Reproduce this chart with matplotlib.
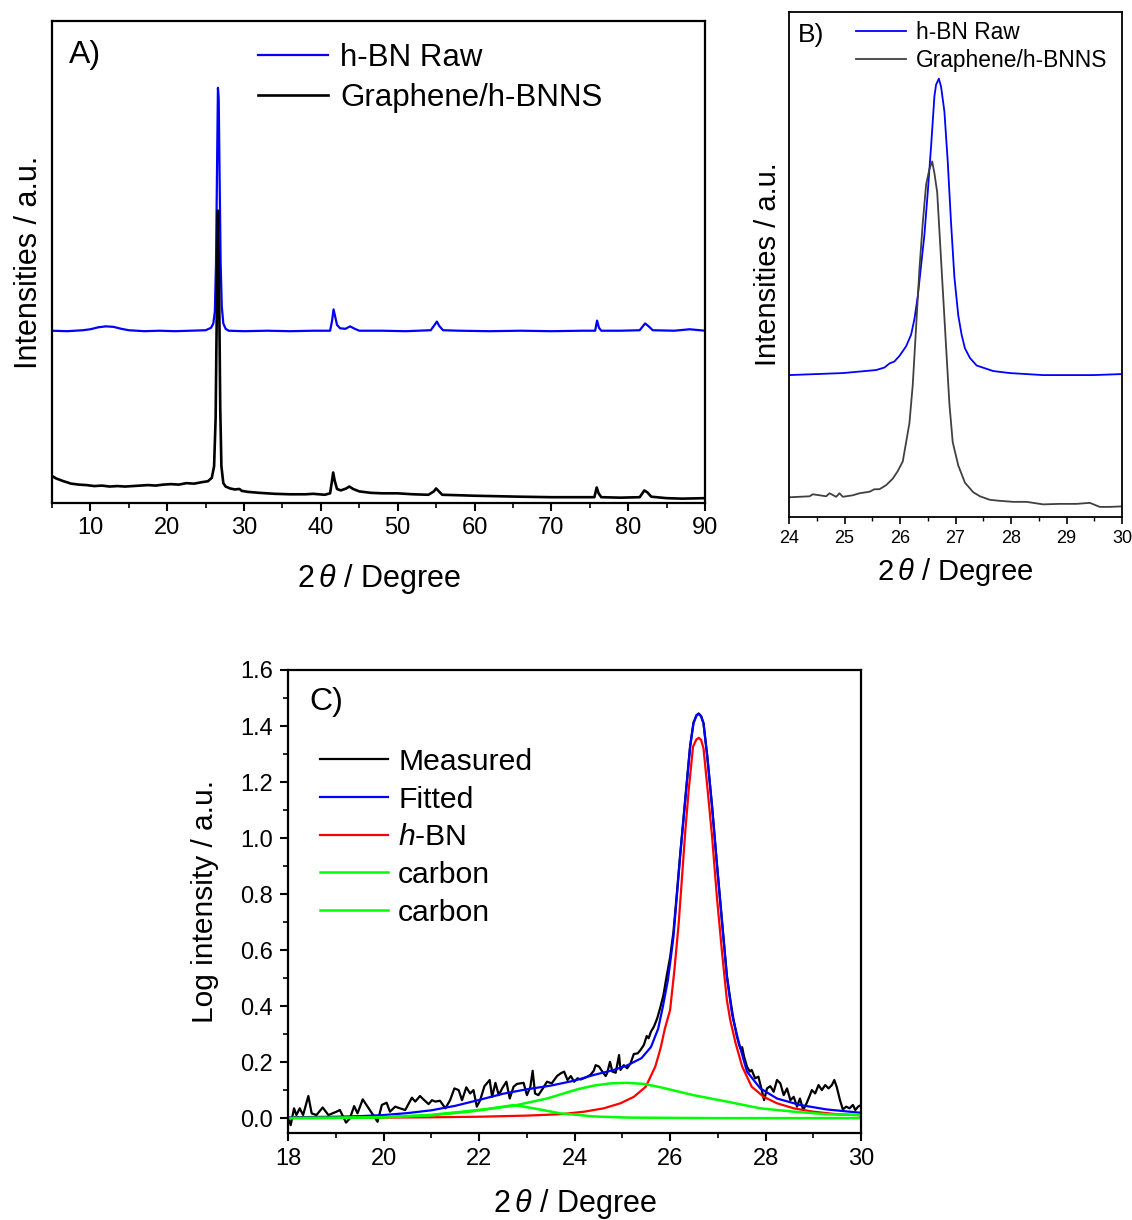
import matplotlib
matplotlib.use("Agg")
import matplotlib.pyplot as plt
from matplotlib.ticker import MultipleLocator, FormatStrFormatter

plt.rcParams['font.family'] = ['Liberation Sans', 'DejaVu Sans']
plt.rcParams['mathtext.fontset'] = 'custom'
plt.rcParams['mathtext.rm'] = 'Liberation Sans'
plt.rcParams['mathtext.it'] = 'Liberation Sans:italic'
plt.rcParams['mathtext.bf'] = 'Liberation Sans:bold'

# ---------------- Panel A data (full pattern, offset intensities) ----------------
a_raw_x = [5.0, 7.0, 9.0, 10.0, 11.0, 12.0, 13.0, 14.0, 15.0, 17.0, 19.0, 21.0, 23.0, 25.0,
           25.7, 26.0, 26.2, 26.35, 26.5, 26.6, 26.7, 26.8, 26.95, 27.1, 27.3, 27.6, 28.0,
           30.0, 33.0, 36.0, 39.0, 41.2, 41.45, 41.65, 41.85, 42.1, 42.5, 43.2, 43.8, 44.4,
           45.0, 48.0, 51.0, 54.3, 54.8, 55.1, 55.4, 55.9, 58.0, 62.0, 66.0, 70.0, 74.0,
           75.7, 75.95, 76.2, 76.5, 79.0, 81.5, 82.2, 82.6, 83.2, 86.0, 88.0, 90.0]
a_raw_y = [36.0, 35.9, 36.1, 36.3, 36.7, 36.9, 36.8, 36.4, 36.1, 35.9, 36.0, 35.9, 36.0, 36.1,
           36.6, 37.5, 40.0, 50.0, 72.0, 86.2, 84.0, 70.0, 50.0, 41.0, 37.5, 36.4, 36.0,
           35.9, 36.0, 35.9, 36.0, 36.0, 38.0, 40.4, 39.0, 37.2, 36.5, 36.4, 36.9, 36.4,
           36.0, 36.0, 35.9, 36.1, 37.2, 37.9, 37.0, 36.1, 36.0, 35.9, 36.0, 35.9, 36.0,
           36.0, 38.1, 36.6, 36.0, 36.0, 36.1, 37.5, 37.0, 36.1, 36.0, 36.3, 36.0]

a_gr_x = [5.0, 5.5, 6.5, 7.5, 8.5, 9.5, 10.5, 11.5, 12.5, 13.5, 14.5, 15.5, 16.5, 17.5, 18.5,
          19.5, 20.5, 21.5, 22.5, 23.5, 24.5, 25.3, 25.8, 26.1, 26.3, 26.45, 26.6, 26.75,
          26.9, 27.05, 27.3, 27.6, 28.2, 28.8, 29.4, 29.7, 30.5, 32.0, 34.0, 36.0, 38.0,
          39.0, 40.5, 41.2, 41.45, 41.6, 41.8, 42.1, 42.6, 43.3, 43.7, 44.2, 45.0, 46.5,
          48.0, 50.0, 52.0, 54.0, 54.7, 55.0, 55.3, 55.8, 58.0, 60.0, 63.0, 66.0, 70.0,
          73.0, 75.6, 75.9, 76.15, 76.5, 79.0, 81.5, 82.1, 82.5, 83.0, 85.0, 87.0, 90.0]
a_gr_y = [6.0, 5.5, 4.9, 4.4, 4.2, 4.1, 3.9, 4.0, 3.8, 3.9, 3.8, 3.9, 4.0, 4.1, 4.0,
          4.2, 4.3, 4.2, 4.5, 4.4, 4.7, 4.9, 5.6, 8.0, 18.0, 40.0, 60.8, 45.0,
          20.0, 8.0, 4.5, 3.8, 3.4, 3.2, 3.3, 2.9, 2.7, 2.5, 2.3, 2.2, 2.2,
          2.3, 2.1, 2.4, 5.0, 6.7, 5.0, 3.3, 3.0, 3.4, 3.8, 3.3, 2.8, 2.5,
          2.4, 2.4, 2.2, 2.1, 2.8, 3.4, 2.9, 2.1, 2.0, 1.9, 1.8, 1.7, 1.6,
          1.6, 1.6, 3.6, 2.4, 1.6, 1.5, 1.6, 3.0, 2.6, 1.7, 1.4, 1.3, 1.4]

# ---------------- Panel B data (zoom on the (002) peak) ----------------
b_raw_x = [24.00, 24.97, 25.57, 25.72, 25.81, 25.90, 25.99, 26.11, 26.20, 26.26, 26.32, 26.38,
           26.44, 26.50, 26.56, 26.62, 26.65, 26.70, 26.74, 26.80, 26.86, 26.92, 26.98, 27.05,
           27.11, 27.17, 27.26, 27.38, 27.68, 27.98, 28.58, 29.48, 29.99]
b_raw_y = [28.1, 28.5, 29.1, 29.6, 30.4, 30.8, 31.9, 33.8, 36.1, 39.2, 43.7, 49.8,
           55.9, 64.3, 73.4, 83.3, 85.6, 86.8, 85.2, 80.3, 70.4, 58.2, 47.5, 39.9,
           36.1, 33.4, 31.5, 30.0, 28.9, 28.5, 28.1, 28.1, 28.3]

b_gr_x = [24.00, 24.37, 24.43, 24.67, 24.73, 24.85, 24.91, 24.97, 25.15, 25.27, 25.45, 25.54,
          25.63, 25.75, 25.87, 25.96, 26.05, 26.11, 26.17, 26.23, 26.29, 26.35, 26.41, 26.47,
          26.53, 26.58, 26.62, 26.67, 26.71, 26.77, 26.83, 26.89, 26.95, 27.05, 27.17, 27.32,
          27.44, 27.62, 27.80, 28.04, 28.28, 28.58, 28.88, 29.18, 29.42, 29.60, 29.78, 29.99]
b_gr_y = [3.9, 4.1, 4.5, 4.1, 4.7, 4.0, 4.7, 4.0, 4.3, 4.7, 5.0, 5.5,
          5.5, 6.3, 7.6, 9.1, 11.0, 14.8, 18.6, 26.2, 37.6, 49.1, 58.2, 65.8,
          68.9, 70.4, 68.1, 64.3, 56.7, 45.2, 33.8, 22.4, 14.8, 10.2, 6.8, 4.9,
          4.1, 3.4, 3.2, 3.0, 3.0, 2.5, 2.6, 2.6, 2.8, 2.0, 2.0, 2.1]

# ---------------- Panel C data (peak fit, log intensity) ----------------
c_meas_x = [18.00, 18.05, 18.12, 18.17, 18.24, 18.31, 18.42, 18.49, 18.59, 18.72, 18.84, 19.01,
            19.08, 19.15, 19.21, 19.29, 19.38, 19.45, 19.56, 19.70, 19.78, 19.87, 19.96, 20.06,
            20.13, 20.24, 20.34, 20.45, 20.59, 20.66, 20.76, 20.83, 20.94, 21.01, 21.08, 21.18,
            21.29, 21.39, 21.48, 21.57, 21.64, 21.73, 21.81, 21.88, 21.95, 22.02, 22.11, 22.22,
            22.27, 22.34, 22.41, 22.48, 22.57, 22.64, 22.72, 22.79, 22.93, 23.00, 23.07, 23.12,
            23.17, 23.24, 23.35, 23.42, 23.52, 23.63, 23.71, 23.78, 23.85, 23.92, 23.99, 24.06,
            24.13, 24.23, 24.33, 24.40, 24.44, 24.51, 24.58, 24.65, 24.68, 24.74, 24.79, 24.86,
            24.93, 24.96, 25.03, 25.10, 25.17, 25.24, 25.32, 25.38, 25.45, 25.51, 25.55, 25.60,
            25.66, 25.73, 25.80, 25.86, 25.92, 26.00, 26.07, 26.14, 26.21, 26.28, 26.35, 26.42,
            26.49, 26.56, 26.60, 26.65, 26.70, 26.78, 26.88, 26.98, 27.09, 27.19, 27.26, 27.33,
            27.40, 27.47, 27.51, 27.55, 27.61, 27.67, 27.71, 27.78, 27.85, 27.92, 27.97, 28.03,
            28.10, 28.17, 28.24, 28.31, 28.38, 28.45, 28.52, 28.59, 28.66, 28.72, 28.79, 28.86,
            28.93, 28.97, 29.04, 29.11, 29.18, 29.25, 29.32, 29.39, 29.44, 29.49, 29.56, 29.62,
            29.69, 29.76, 29.83, 29.88, 29.94, 30.00]
c_meas_y = [0.000, -0.024, 0.036, 0.012, 0.036, 0.012, 0.080, 0.018, 0.012, 0.039, 0.012, 0.024,
            0.030, 0.006, -0.015, 0.000, 0.044, 0.018, 0.068, 0.032, 0.012, -0.012, 0.048, 0.056,
            0.024, 0.042, 0.036, 0.030, 0.074, 0.060, 0.080, 0.068, 0.051, 0.065, 0.060, 0.063,
            0.036, 0.065, 0.107, 0.101, 0.065, 0.111, 0.089, 0.101, 0.042, 0.065, 0.115, 0.137,
            0.077, 0.127, 0.083, 0.107, 0.131, 0.071, 0.113, 0.123, 0.127, 0.083, 0.111, 0.170,
            0.089, 0.083, 0.111, 0.131, 0.125, 0.151, 0.161, 0.167, 0.137, 0.151, 0.131, 0.143,
            0.139, 0.146, 0.155, 0.170, 0.190, 0.185, 0.167, 0.151, 0.161, 0.202, 0.167, 0.163,
            0.226, 0.173, 0.190, 0.179, 0.196, 0.230, 0.232, 0.244, 0.262, 0.294, 0.286, 0.310,
            0.327, 0.357, 0.399, 0.440, 0.500, 0.575, 0.665, 0.800, 0.940, 1.070, 1.200, 1.330,
            1.412, 1.440, 1.445, 1.435, 1.410, 1.290, 1.112, 0.910, 0.700, 0.510, 0.425, 0.351,
            0.292, 0.250, 0.254, 0.220, 0.185, 0.167, 0.173, 0.143, 0.149, 0.101, 0.065, 0.107,
            0.115, 0.095, 0.137, 0.125, 0.083, 0.107, 0.065, 0.077, 0.042, 0.071, 0.030, 0.054,
            0.083, 0.101, 0.089, 0.119, 0.101, 0.119, 0.107, 0.119, 0.137, 0.113, 0.065, 0.032,
            0.042, 0.036, 0.048, 0.030, 0.042, 0.048]

c_fit_x = [18.0, 18.5, 19.0, 19.5, 20.0, 20.5, 21.0, 21.5, 22.0, 22.5, 23.0, 23.5, 24.0, 24.4,
           24.8, 25.1, 25.4, 25.6, 25.75, 25.85, 25.95, 26.00, 26.07, 26.14, 26.21, 26.28, 26.35,
           26.42, 26.49, 26.55, 26.60, 26.65, 26.70, 26.78, 26.88, 26.98, 27.09, 27.19, 27.26,
           27.30, 27.44, 27.61, 27.89, 28.24, 28.72, 29.28, 30.00]
c_fit_y = [0.004, 0.005, 0.006, 0.008, 0.012, 0.019, 0.029, 0.045, 0.066, 0.088, 0.104, 0.117,
           0.135, 0.155, 0.172, 0.189, 0.215, 0.255, 0.320, 0.400, 0.490, 0.553, 0.648, 0.791,
           0.934, 1.065, 1.196, 1.326, 1.410, 1.438, 1.443, 1.435, 1.410, 1.290, 1.112, 0.910,
           0.696, 0.505, 0.420, 0.370, 0.270, 0.167, 0.107, 0.071, 0.048, 0.032, 0.020]

c_hbn_x = [18.0, 19.0, 20.0, 21.0, 22.0, 23.0, 23.71, 24.2, 24.61, 24.96, 25.24, 25.49, 25.69,
           25.80, 25.89, 26.00, 26.09, 26.18, 26.25, 26.32, 26.39, 26.48, 26.55, 26.60, 26.65,
           26.70, 26.78, 26.88, 26.98, 27.09, 27.19, 27.26, 27.37, 27.51, 27.71, 27.96, 28.24,
           28.59, 29.00, 29.49, 30.00]
c_hbn_y = [0.002, 0.002, 0.003, 0.004, 0.006, 0.010, 0.015, 0.024, 0.036, 0.054, 0.077, 0.113,
           0.185, 0.250, 0.320, 0.387, 0.529, 0.696, 0.862, 1.029, 1.172, 1.326, 1.352, 1.358,
           1.350, 1.320, 1.183, 1.005, 0.791, 0.589, 0.422, 0.351, 0.270, 0.185, 0.113, 0.077,
           0.054, 0.036, 0.024, 0.015, 0.011]

c_c1_x = [18.0, 19.0, 19.9, 20.94, 21.64, 22.2, 22.72, 23.42, 24.06, 24.40, 24.75, 25.10, 25.45,
          25.80, 26.49, 27.19, 27.89, 28.59, 29.28, 30.00]
c_c1_y = [0.001, 0.002, 0.004, 0.012, 0.024, 0.034, 0.045, 0.071, 0.104, 0.117, 0.125, 0.127,
          0.123, 0.111, 0.083, 0.060, 0.036, 0.024, 0.015, 0.012]

c_c2_x = [18.0, 19.0, 20.0, 21.0, 21.8, 22.2, 22.5, 22.7, 22.9, 23.2, 23.7, 24.1, 24.4, 25.1,
          26.0, 27.0, 28.0, 30.0]
c_c2_y = [0.001, 0.002, 0.004, 0.011, 0.024, 0.034, 0.042, 0.047, 0.043, 0.034, 0.018, 0.012,
          0.007, 0.003, 0.002, 0.001, 0.001, 0.001]

xlabel_txt = r"2$\,\theta$ / Degree"

W, H = 1132, 1220
fig = plt.figure(figsize=(W / 100, H / 100), dpi=100)

def style_axes(ax, lw=1.5):
    for s in ax.spines.values():
        s.set_linewidth(lw)
        s.set_color('black')

# ---------------- Panel A ----------------
axA = fig.add_axes([52 / W, 1 - 503 / H, 653 / W, 482 / H])
lA1, = axA.plot(a_raw_x, a_raw_y, color='#0000FF', lw=1.6, label='h-BN Raw')
lA2, = axA.plot(a_gr_x, a_gr_y, color='black', lw=1.9, label='Graphene/h-BNNS')
axA.set_xlim(5, 90)
axA.set_ylim(0.4, 100)
axA.set_yticks([])
axA.xaxis.set_major_locator(MultipleLocator(10))
axA.xaxis.set_minor_locator(MultipleLocator(5))
axA.tick_params(axis='x', which='major', direction='out', length=6, width=1.5, labelsize=17, pad=4)
axA.tick_params(axis='x', which='minor', direction='out', length=3.5, width=1.2)
axA.set_xticks([10, 20, 30, 40, 50, 60, 70, 80, 90])
axA.set_xlabel(xlabel_txt, fontsize=22, labelpad=17)
axA.set_ylabel('Intensities / a.u.', fontsize=22, labelpad=6)
style_axes(axA, 1.6)
axA.legend(handles=[lA1, lA2], loc='upper left', bbox_to_anchor=(258 / W, 1 - 43 / H),
           bbox_transform=fig.transFigure, frameon=False, fontsize=22.5, borderpad=0,
           borderaxespad=0, handlelength=2.25, handletextpad=0.38, labelspacing=0.33)
fig.text(85 / W, 1 - 55 / H, 'A)', fontsize=23, ha='center', va='center')

# ---------------- Panel B ----------------
axB = fig.add_axes([789 / W, 1 - 517 / H, 333 / W, 505 / H])
lB1, = axB.plot(b_raw_x, b_raw_y, color='#0000FF', lw=1.3, label='h-BN Raw')
lB2, = axB.plot(b_gr_x, b_gr_y, color='#404040', lw=1.3, label='Graphene/h-BNNS')
axB.set_xlim(24, 30)
axB.set_ylim(0, 100)
axB.set_yticks([])
axB.xaxis.set_major_locator(MultipleLocator(1))
axB.xaxis.set_minor_locator(MultipleLocator(0.5))
axB.tick_params(axis='x', which='major', direction='out', length=5, width=1.2, labelsize=13, pad=4)
axB.tick_params(axis='x', which='minor', direction='out', length=3, width=1.0)
axB.set_xlabel(xlabel_txt, fontsize=21, labelpad=7)
axB.set_ylabel('Intensities / a.u.', fontsize=21, labelpad=5)
style_axes(axB, 1.3)
axB.legend(handles=[lB1, lB2], loc='upper left', bbox_to_anchor=(856 / W, 1 - 21 / H),
           bbox_transform=fig.transFigure, frameon=False, fontsize=16.4, borderpad=0,
           borderaxespad=0, handlelength=2.2, handletextpad=0.45, labelspacing=0.2)
fig.text(811 / W, 1 - 35 / H, 'B)', fontsize=19, ha='center', va='center')

# ---------------- Panel C ----------------
axC = fig.add_axes([288.3 / W, 1 - 1132.7 / H, 572.7 / W, 462.7 / H])
l1, = axC.plot(c_meas_x, c_meas_y, color='black', lw=1.6, label='Measured')
l2, = axC.plot(c_fit_x, c_fit_y, color='#0000FF', lw=1.6, label='Fitted')
l3, = axC.plot(c_hbn_x, c_hbn_y, color='#FF0000', lw=1.6, label=r'$h$-BN')
l4, = axC.plot(c_c1_x, c_c1_y, color='#00FF00', lw=1.8, label='carbon')
l5, = axC.plot(c_c2_x, c_c2_y, color='#00FF00', lw=1.8, label='carbon')
axC.set_xlim(18, 30)
axC.set_ylim(-0.051, 1.6)
axC.xaxis.set_major_locator(MultipleLocator(2))
axC.xaxis.set_minor_locator(MultipleLocator(1))
axC.yaxis.set_major_locator(MultipleLocator(0.2))
axC.yaxis.set_minor_locator(MultipleLocator(0.1))
axC.yaxis.set_major_formatter(FormatStrFormatter('%.1f'))
axC.tick_params(axis='both', which='major', direction='out', length=6, width=1.5, labelsize=17, pad=5)
axC.tick_params(axis='both', which='minor', direction='out', length=3.5, width=1.2)
axC.set_xlabel(xlabel_txt, fontsize=22, labelpad=12)
axC.set_ylabel('Log intensity / a.u.', fontsize=21.5, labelpad=15)
style_axes(axC, 1.6)
axC.legend(handles=[l1, l2, l3, l4, l5], loc='upper left', bbox_to_anchor=(320 / W, 1 - 748 / H),
           bbox_transform=fig.transFigure, frameon=False, fontsize=21.7, borderpad=0,
           borderaxespad=0, handlelength=2.26, handletextpad=0.33, labelspacing=0.32)
fig.text(326 / W, 1 - 702 / H, 'C)', fontsize=23, ha='center', va='center')

fig.savefig('out.png', dpi=100)
